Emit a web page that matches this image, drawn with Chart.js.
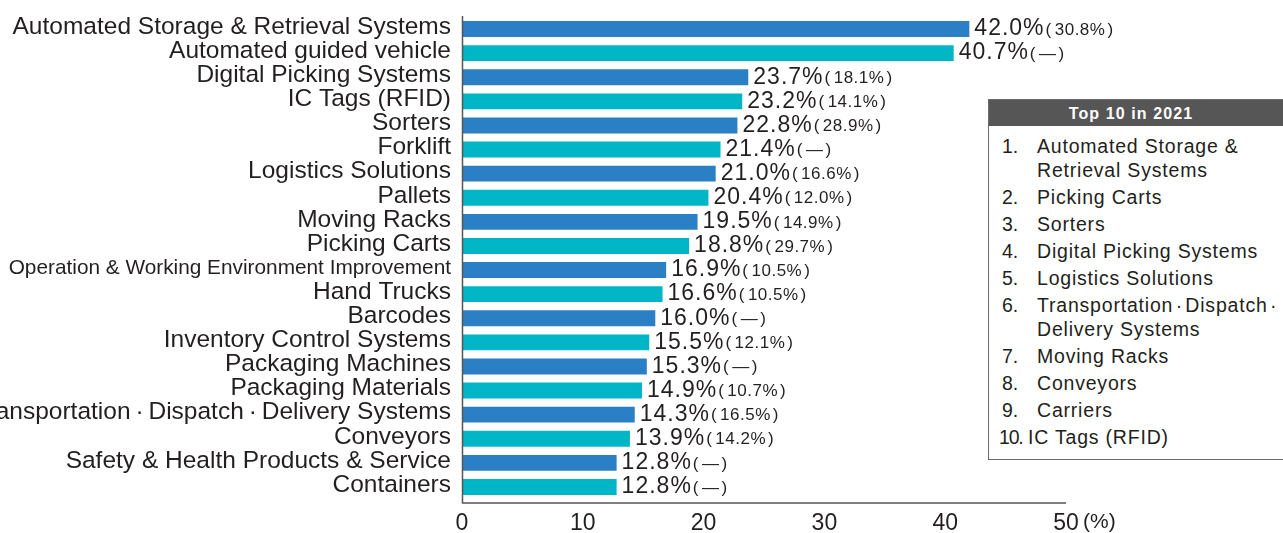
<!DOCTYPE html>
<html>
<head>
<meta charset="utf-8">
<script src="https://cdn.jsdelivr.net/npm/chart.js@4"></script>
<style>
	html, body { margin: 0; padding: 0; background: #fff; }
	#wrap { position: relative; width: 1283px; height: 533px; overflow: hidden; }
	#chart { position: absolute; left: 0; top: 0; }
	#top10 {
		position: absolute; left: 988px; top: 99px; width: 300px; height: 361px;
		border: 1.5px solid #6b6b6b; box-sizing: border-box; background: #fff;
		font-family: 'Liberation Sans', Arial, sans-serif; color: #231f20;
	}
	#top10 .head {
		background: #565656; color: #fff; font-weight: bold; font-size: 16px; letter-spacing: 1.1px;
		height: 26px; line-height: 27px; text-align: center; padding-right: 14px;
	}
	#top10 ol { list-style: none; margin: 8px 0 0 0; padding: 0; font-size: 19.5px; letter-spacing: 0.8px; }
	#top10 li { position: relative; padding-left: 48px; line-height: 24px; margin-bottom: 3px; }
	#top10 li span { position: absolute; left: 13px; top: 0; letter-spacing: 0; }
	#top10 li.ten { padding-left: 39px; }
	#top10 li.ten span { left: 10px; letter-spacing: -1.2px; }
</style>
</head>
<body>
<div id="wrap">
	<canvas id="chart" width="1283" height="533"></canvas>
	<div id="top10">
		<div class="head">Top 10 in 2021</div>
		<ol id="toplist"></ol>
	</div>
</div>
<script>
const categories = [
	'Automated Storage & Retrieval Systems',
	'Automated guided vehicle',
	'Digital Picking Systems',
	'IC Tags (RFID)',
	'Sorters',
	'Forklift',
	'Logistics Solutions',
	'Pallets',
	'Moving Racks',
	'Picking Carts',
	'Operation & Working Environment Improvement',
	'Hand Trucks',
	'Barcodes',
	'Inventory Control Systems',
	'Packaging Machines',
	'Packaging Materials',
	'Transportation\u2009\u00b7\u2009Dispatch\u2009\u00b7\u2009Delivery Systems',
	'Conveyors',
	'Safety & Health Products & Service',
	'Containers',
];
const share2022 = [ 42.0, 40.7, 23.7, 23.2, 22.8, 21.4, 21.0, 20.4, 19.5, 18.8, 16.9, 16.6, 16.0, 15.5, 15.3, 14.9, 14.3, 13.9, 12.8, 12.8 ];
const share2021 = [ 30.8, null, 18.1, 14.1, 28.9, null, 16.6, 12.0, 14.9, 29.7, 10.5, 10.5, null, 12.1, null, 10.7, 16.5, 14.2, null, null ];
const xTicks = [ 0, 10, 20, 30, 40, 50 ];
const top2021 = [
	'Automated Storage &<br>Retrieval Systems',
	'Picking Carts',
	'Sorters',
	'Digital Picking Systems',
	'Logistics Solutions',
	'Transportation\u200a\u00b7\u200aDispatch\u200a\u00b7<br>Delivery Systems',
	'Moving Racks',
	'Conveyors',
	'Carriers',
	'IC Tags (RFID)',
];

const BLUE = '#2a7fc5';
const CYAN = '#00b5c6';
const INK = '#231f20';
const FONT = "'Liberation Sans', Arial, sans-serif";

// list in the box
const list = document.getElementById( 'toplist' );
top2021.forEach( ( name, i ) => {
	const li = document.createElement( 'li' );
	if ( i === 9 ) {
		li.className = 'ten';
	}
	li.innerHTML = '<span>' + ( i + 1 ) + '.</span>' + name;
	list.appendChild( li );
} );

const valueLabels = {
	id: 'valueLabels',
	afterDatasetsDraw( chart ) {
		const ctx = chart.ctx;
		const meta = chart.getDatasetMeta( 0 );
		ctx.save();
		ctx.textBaseline = 'middle';
		ctx.textAlign = 'left';
		ctx.fillStyle = INK;
		meta.data.forEach( ( bar, i ) => {
			const main = share2022[ i ].toFixed( 1 ) + '%';
			const inner = share2021[ i ] === null ? '—' : share2021[ i ].toFixed( 1 ) + '%';
			let x = bar.x + 5;
			ctx.letterSpacing = '1px';
			ctx.font = '23px ' + FONT;
			ctx.fillText( main, x, bar.y );
			x += ctx.measureText( main ).width + 1;
			ctx.letterSpacing = '0.5px';
			ctx.font = '17px ' + FONT;
			ctx.fillText( '(', x, bar.y + 1 );
			x += ctx.measureText( '(' ).width + 3;
			ctx.fillText( inner, x, bar.y + 1 );
			x += ctx.measureText( inner ).width + 2;
			ctx.fillText( ')', x, bar.y + 1 );
		} );
		ctx.letterSpacing = '0px';

		// axes lines
		const a = chart.chartArea;
		ctx.strokeStyle = '#555';
		ctx.lineWidth = 1.5;
		ctx.beginPath();
		ctx.moveTo( a.left + 0.5, a.top - 1 );
		ctx.lineTo( a.left + 0.5, a.bottom + 4 );
		ctx.lineTo( a.right, a.bottom + 4 );
		ctx.stroke();

		// unit after the last tick
		const xs = chart.scales.x;
		ctx.font = '21px ' + FONT;
		ctx.fillText( '(%)', xs.getPixelForValue( 50 ) + 17, 522 );
		ctx.restore();
	},
};

new Chart( document.getElementById( 'chart' ), {
	type: 'bar',
	data: {
		labels: categories,
		datasets: [
			{
				data: share2022,
				backgroundColor: categories.map( ( c, i ) => ( i % 2 ? CYAN : BLUE ) ),
				barPercentage: 0.66,
				categoryPercentage: 1,
			},
		],
	},
	plugins: [ valueLabels ],
	options: {
		indexAxis: 'y',
		responsive: false,
		animation: false,
		layout: {
			padding: { top: 17, right: 217, left: 0, bottom: 0 },
		},
		plugins: {
			legend: { display: false },
			tooltip: { enabled: false },
		},
		scales: {
			x: {
				min: 0,
				max: 50,
				afterBuildTicks( scale ) {
					scale.ticks = xTicks.map( ( v ) => ( { value: v } ) );
				},
				afterFit( scale ) {
					scale.height = 34;
					scale.paddingLeft = 0;
					scale.paddingRight = 0;
				},
				grid: { display: false, drawTicks: false },
				border: { display: false },
				ticks: {
					padding: 11,
					color: INK,
					maxRotation: 0,
					font: { family: FONT, size: 23 },
				},
			},
			y: {
				afterFit( scale ) {
					scale.width = 462;
					scale.paddingTop = 0;
					scale.paddingBottom = 0;
				},
				grid: { display: false, drawTicks: false },
				border: { display: false },
				ticks: {
					padding: 11,
					labelOffset: -2,
					color: INK,
					autoSkip: false,
					font( c ) {
						if ( c.index === 10 ) {
							return { family: FONT, size: 20.8 };
						}
						return { family: FONT, size: 24.5 };
					},
				},
			},
		},
	},
} );
</script>
</body>
</html>
